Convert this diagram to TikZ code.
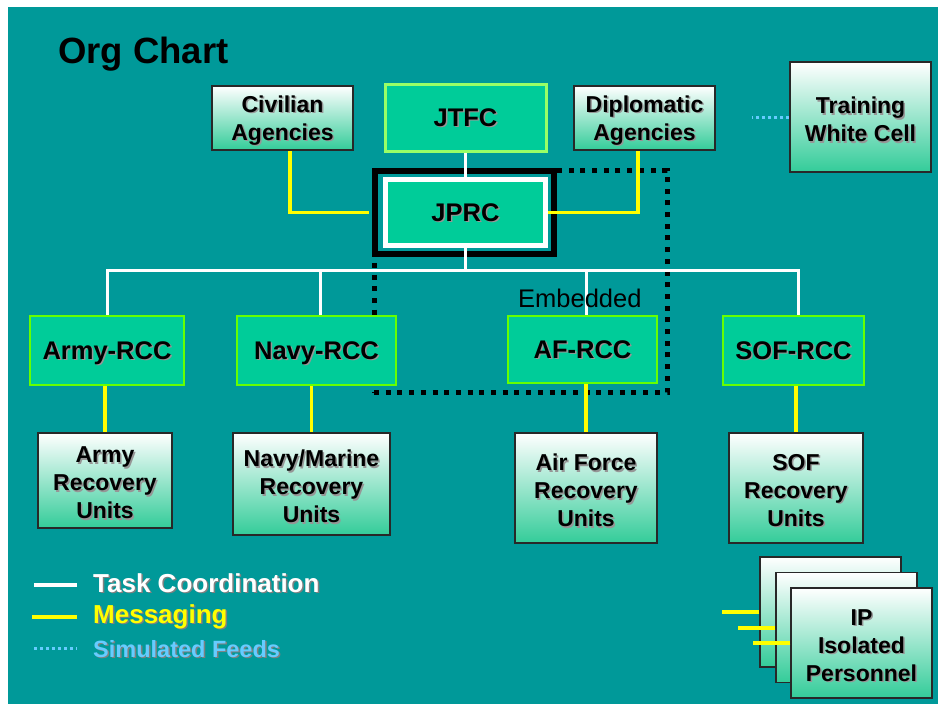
\documentclass[tikz,border=0pt]{standalone}
\usepackage{fontspec}
\setmainfont{Liberation Sans}
\definecolor{bgteal}{RGB}{0,153,153}
\definecolor{boxgreen}{RGB}{0,204,153}
\definecolor{limeedge}{RGB}{102,255,0}
\definecolor{jtfcedge}{RGB}{153,255,102}
\definecolor{gradgreen}{RGB}{51,204,153}
\definecolor{edgegray}{RGB}{40,40,40}
\definecolor{yelline}{RGB}{255,255,0}
\definecolor{feedblue}{RGB}{102,204,255}
\definecolor{shadowgray}{RGB}{150,150,150}
\pgfdeclarelayer{back}
\pgfdeclarelayer{links}
\pgfsetlayers{back,links,main}
\newcommand\shtxt[2][shadowgray]{\leavevmode\rlap{\kern1.5pt\raisebox{-1.5pt}[0pt][0pt]{\textcolor{#1}{#2}}}#2}
\newcommand\gline[1]{\raisebox{-2.5pt}[\height][\depth]{\shtxt{#1}}}
\begin{document}
\begin{tikzpicture}[x=1pt,y=-1pt,
  greenbox/.style={rectangle, inner sep=0pt, fill=boxgreen, draw=limeedge, line width=2.5pt,
    font=\bfseries\fontsize{25.5}{28}\selectfont, text=black, align=center, text depth=0pt},
  gradbox/.style={rectangle, inner sep=0pt, top color=white, bottom color=gradgreen,
    draw=edgegray, line width=1.3pt, font=\bfseries\fontsize{23}{28}\selectfont, text=black, align=center},
  task/.style={draw=white, line width=3pt},
  msg/.style={draw=yelline, line width=3.5pt},
  feed/.style={draw=feedblue, line width=3pt, dash pattern=on 3.3pt off 2.7pt},
  jframe/.style={rectangle, inner sep=0pt, draw=black, line width=6pt},
  embedbox/.style={rectangle, inner sep=0pt, draw=black, line width=5pt, dash pattern=on 5pt off 6.7pt},
  legend/.style={anchor=base west, inner sep=0pt, font=\bfseries\fontsize{26}{28}\selectfont}
]
\useasboundingbox (0,0) rectangle (938,704);
\begin{pgfonlayer}{back}
  \fill[white] (0,0) rectangle (938,704);
  \fill[bgteal] (8,7) rectangle (938,704);
\end{pgfonlayer}

% title
\node[anchor=base west, inner sep=0pt, font=\bfseries\fontsize{36.5}{40}\selectfont] (title) at (58,63) {Org Chart};

% top row
\node[gradbox, minimum width=141pt, minimum height=64pt] (civ) at (282.5,118) {\gline{Civilian}\\\gline{Agencies}};
\node[greenbox, draw=jtfcedge, line width=3pt, minimum width=161pt, minimum height=67pt] (jtfc) at (465.5,117.5) {\shtxt{JTFC}};
\node[gradbox, minimum width=141pt, minimum height=64pt] (dip) at (644.5,118) {\gline{Diplomatic}\\\gline{Agencies}};
\node[gradbox, minimum width=141pt, minimum height=110pt] (twc) at (860.5,117) {\gline{Training}\\\gline{White Cell}};

% JPRC
\node[greenbox, draw=white, line width=5pt, minimum width=160pt, minimum height=66pt] (jprc) at (465.5,212.5) {\shtxt{JPRC}};

% RCCs
\node[greenbox, minimum width=154pt, minimum height=69pt] (armyrcc) at (107,350.5) {\shtxt{Army-RCC}};
\node[greenbox, minimum width=159pt, minimum height=69pt] (navyrcc) at (316.5,350.5) {\shtxt{Navy-RCC}};
\node[greenbox, minimum width=149pt, minimum height=67pt] (afrcc) at (582.5,349.5) {\shtxt{AF-RCC}};
\node[greenbox, minimum width=141pt, minimum height=69pt] (sofrcc) at (793.5,350.5) {\shtxt{SOF-RCC}};

% recovery units
\node[gradbox, minimum width=134pt, minimum height=95pt] (armyu) at (105,480.5) {\gline{Army}\\\gline{Recovery}\\\gline{Units}};
\node[gradbox, minimum width=157pt, minimum height=102pt] (navyu) at (311.5,484) {\gline{Navy/Marine}\\\gline{Recovery}\\\gline{Units}};
\node[gradbox, minimum width=142pt, minimum height=110pt] (afu) at (586,488) {\gline{Air Force}\\\gline{Recovery}\\\gline{Units}};
\node[gradbox, minimum width=134pt, minimum height=110pt] (sofu) at (796,488) {\gline{SOF}\\\gline{Recovery}\\\gline{Units}};

\node[anchor=base west, inner sep=0pt, font=\fontsize{25.5}{28}\selectfont] (emb) at (518,307) {Embedded};

% isolated personnel stack
\node[gradbox, minimum width=141pt, minimum height=110pt] (ip1) at (830.5,612) {};
\draw[msg, line width=4pt] (ip1.west) -- ++(-37,0);
\node[gradbox, minimum width=141pt, minimum height=110pt] (ip2) at (846.5,627.5) {};
\draw[msg, line width=4pt] (ip2.west) -- ++(-37,0);
\node[gradbox, minimum width=141pt, minimum height=110pt] (ip3) at (861.5,643) {\gline{IP}\\\gline{Isolated}\\\gline{Personnel}};
\draw[msg, line width=4pt] (ip3.west) -- ++(-37,0);

\coordinate (bus) at (0,270);
\coordinate (navyTop) at ([xshift=3.5pt]navyrcc.north);
\coordinate (afTop) at ([xshift=3.5pt]afrcc.north);
\coordinate (sofTop) at ([xshift=4.5pt]sofrcc.north);

\begin{pgfonlayer}{links}
  \node[embedbox, minimum width=293pt, minimum height=222pt] (embbox) at (520.5,281) {};
  \node[jframe, minimum width=179pt, minimum height=83pt] (jprcframe) at (464.5,212.5) {};
  % task coordination
  \draw[task] (jtfc.south) -- (jtfc.south |- bus);
  \draw[task] (armyrcc.north) |- (sofTop |- bus) -- (sofTop);
  \draw[task] (navyTop) -- (navyTop |- bus);
  \draw[task] (afTop) -- (afTop |- bus);
  % messaging
  \draw[msg] ([xshift=7.5pt]civ.south) |- ([xshift=-3pt]jprcframe.west);
  \draw[msg] ([xshift=-6.5pt]dip.south) |- (jprc.east);
  \draw[msg] (armyu.north) -- (armyu.north |- armyrcc.south);
  \draw[msg] (navyu.north) -- (navyu.north |- navyrcc.south);
  \draw[msg] (afu.north) -- (afu.north |- afrcc.south);
  \draw[msg] (sofu.north) -- (sofu.north |- sofrcc.south);
  % simulated feed
  \draw[feed] (twc.west) -- ++(-37,0);
\end{pgfonlayer}

% legend
\draw[task, line width=4pt] (34,585) -- (77,585);
\node[legend, text=white] (lg1) at (93,592) {\shtxt[gray]{Task Coordination}};
\draw[msg, line width=4.5pt] (32,617) -- (77,617);
\node[legend, text=yelline] (lg2) at (93,623) {\shtxt[gray]{Messaging}};
\draw[feed] (34,648) -- (77,648);
\node[legend, font=\bfseries\fontsize{23.5}{28}\selectfont, text=feedblue] (lg3) at (93,657) {\shtxt[gray]{Simulated Feeds}};
\end{tikzpicture}
\end{document}
